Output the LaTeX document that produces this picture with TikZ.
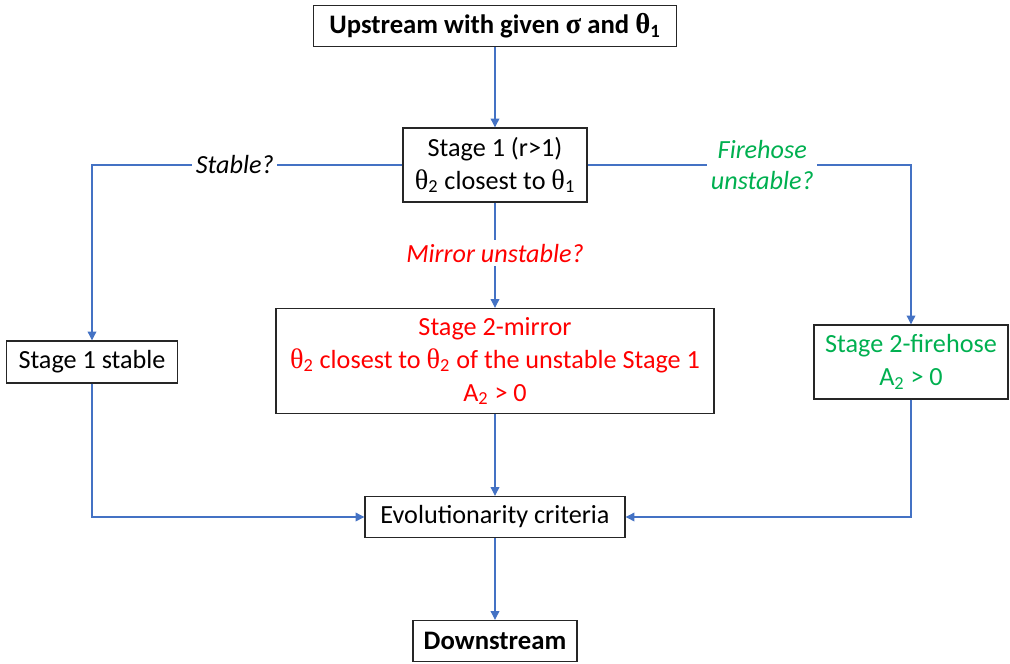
\documentclass[tikz,border=0pt]{standalone}
\usepackage{fontspec}
\setmainfont{Carlito}
\newfontfamily\grk[Scale=1.08]{Liberation Serif}
\usetikzlibrary{arrows.meta}

\definecolor{linkblue}{RGB}{68,114,196}
\definecolor{firegreen}{RGB}{0,176,80}

% theta with subscript, in a symbol-like face
\newcommand{\thet}[1]{{\grk θ}\textsubscript{#1}}

\tikzset{
  stagebox/.style={draw=black!85, line width=0.8pt, align=center, inner sep=0pt,
    font=\fontsize{14.9}{18.8}\selectfont},
  endbox/.style={stagebox, font=\fontsize{15.2}{18.8}\selectfont\bfseries},
  link/.style={draw=linkblue, line width=0.6pt, -{Triangle[length=5pt,width=5pt]}},
  query/.style={fill=white, inner sep=2pt, align=center,
    font=\fontsize{14.9}{18}\selectfont\itshape},
}

\begin{document}
\begin{tikzpicture}[x=0.02cm, y=-0.02cm]
    \useasboundingbox (0,0) rectangle (1010,663);

    % Boxes
    \node[endbox, minimum width=7.26cm, minimum height=0.82cm] (up) at (495,26)
        {Upstream with given {\grk\bfseries σ} and {\grk\bfseries θ}\textsubscript{1}};
    \node[stagebox, minimum width=3.68cm, minimum height=1.48cm] (s1) at (495,165)
        {Stage 1 (r\textgreater 1)\\ \thet{2} closest to \thet{1}};
    \node[stagebox, minimum width=3.42cm, minimum height=0.84cm] (stable) at (92,362)
        {Stage 1 stable};
    \node[stagebox, text=red, minimum width=8.76cm, minimum height=2.1cm] (mirror) at (495,361)
        {Stage 2-mirror\\ \thet{2} closest to \thet{2} of the unstable Stage 1\\ A\textsubscript{2} \textgreater{} 0};
    \node[stagebox, text=firegreen, minimum width=3.88cm, minimum height=1.48cm] (fire) at (911,362)
        {Stage 2-firehose\\ A\textsubscript{2} \textgreater{} 0};
    \node[stagebox, minimum width=5.2cm, minimum height=0.82cm] (evol) at (495,517)
        {Evolutionarity criteria};
    \node[endbox, minimum width=3.28cm, minimum height=0.82cm] (down) at (495,641)
        {Downstream};

    % Connectors
    \draw[link] (up) -- (s1);
    \draw[link] (s1.west) -| (stable.north)
        node[query, pos=0.27] (qstable) {Stable?};
    \draw[link] (s1.east) -| (fire.north)
        node[query, text=firegreen, pos=0.27] (qfire) {Firehose\\ unstable?};
    \draw[link] (s1) -- (mirror)
        node[query, text=red, pos=0.48] (qmirror) {Mirror unstable?};
    \draw[link] (stable.south) |- (evol.west);
    \draw[link] (fire.south) |- (evol.east);
    \draw[link] (mirror) -- (evol);
    \draw[link] (evol) -- (down);
\end{tikzpicture}
\end{document}
